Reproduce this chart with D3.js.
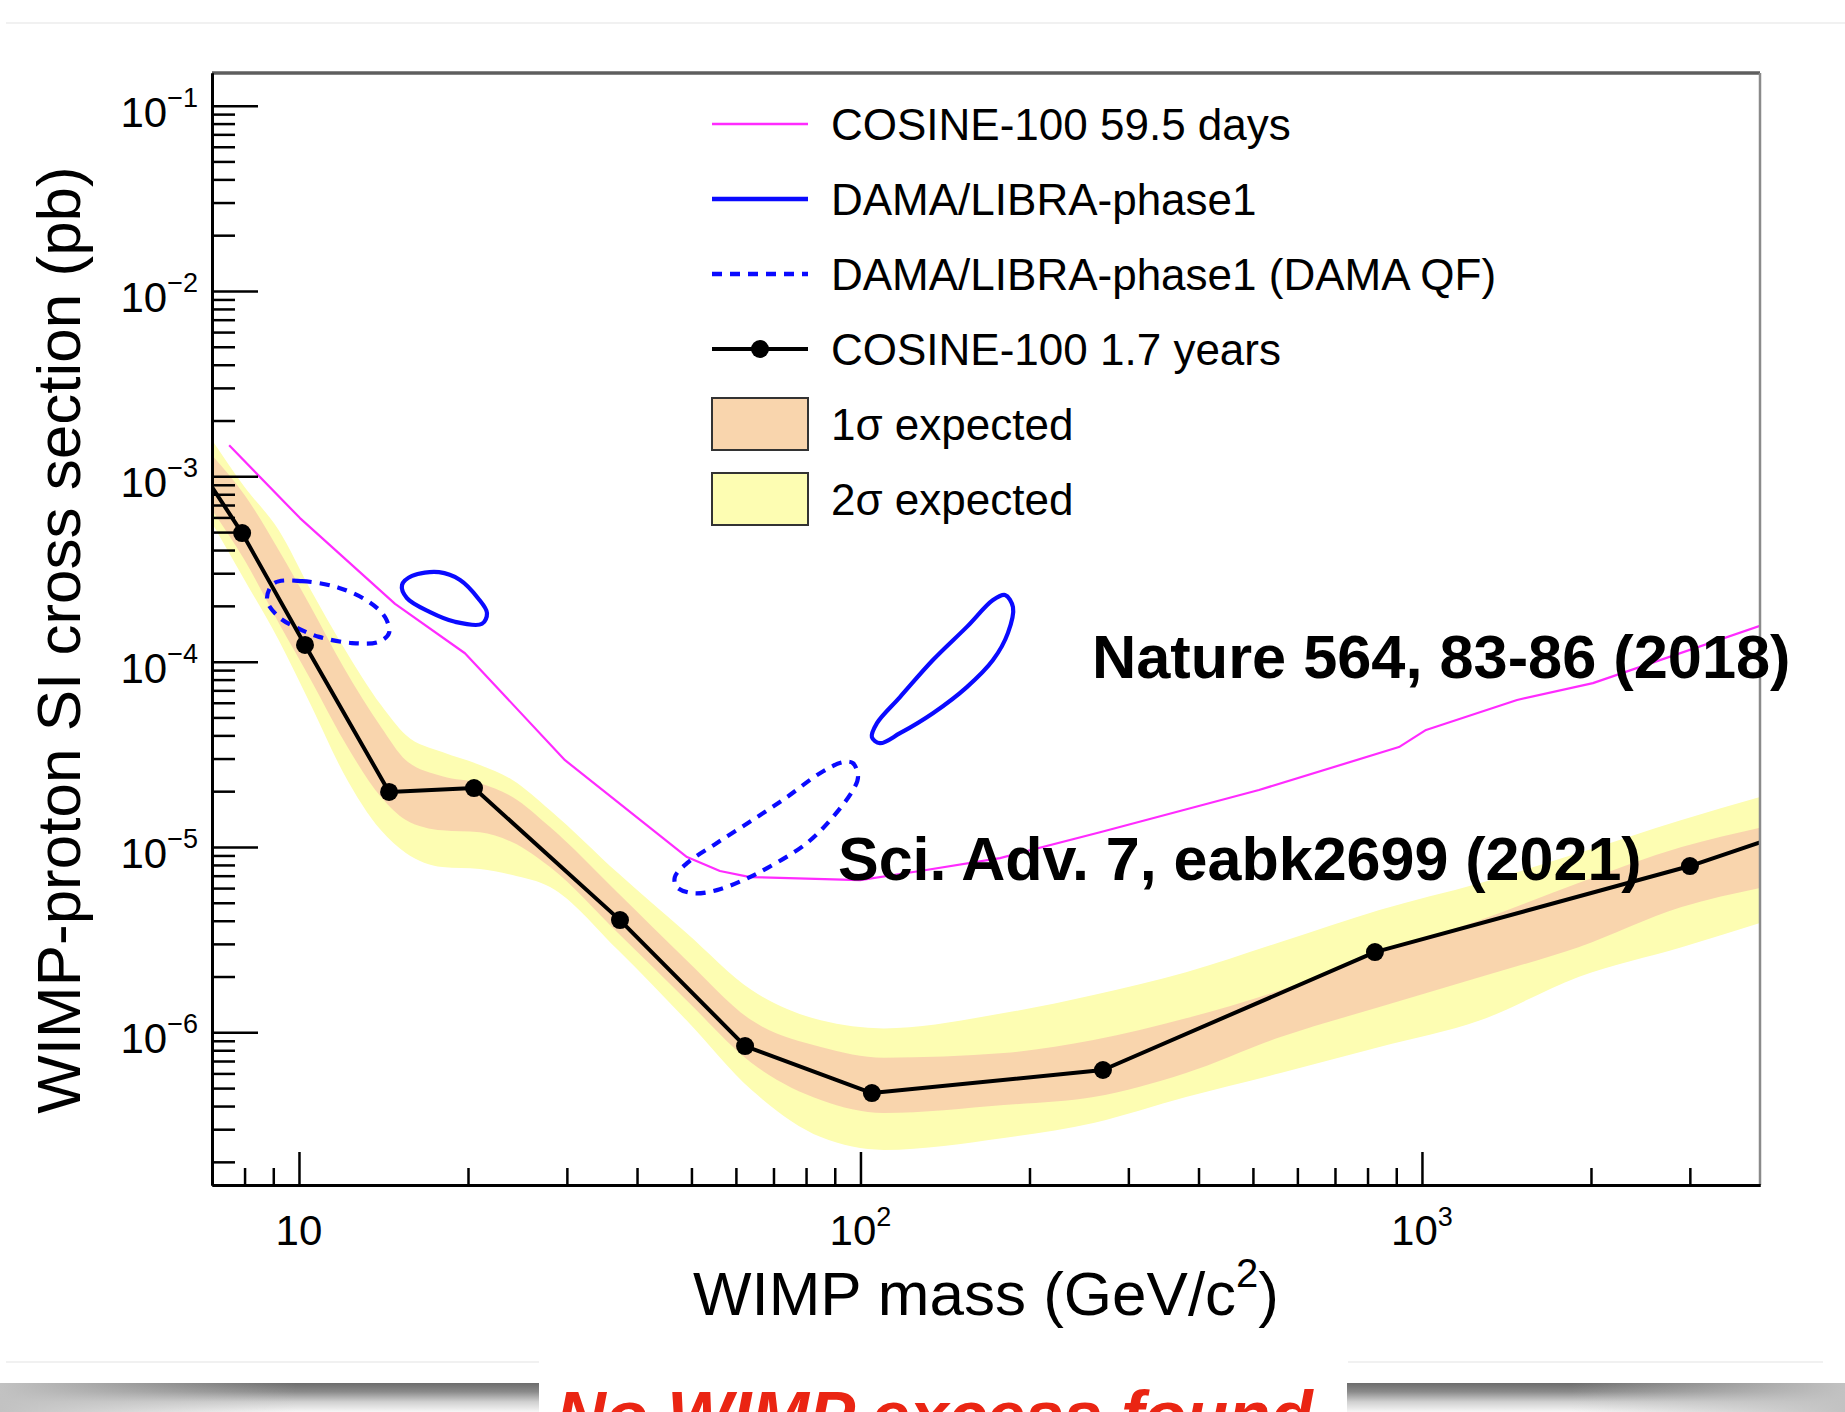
<!DOCTYPE html>
<html>
<head>
<meta charset="utf-8">
<script src="https://cdn.jsdelivr.net/npm/d3@7"></script>
<style>
  html, body { margin: 0; padding: 0; background: #fff; }
  svg { display: block; }
  text { font-family: "Liberation Sans", Arial, Helvetica, sans-serif; fill: #000; }
</style>
</head>
<body>
<svg id="chart" width="1845" height="1412"></svg>
<script>
// ---------------------------------------------------------------
// Data: WIMP-proton spin-independent cross section limits (pb)
// ---------------------------------------------------------------

// COSINE-100 1.7 years limit (end values continue the line to the frame)
const limitMass = [7, 7.92, 10.25, 14.47, 20.5, 37.3, 62.3, 104.8, 270.3, 824.7, 3001, 4000];
const limitXsec = [8.75e-4, 4.94e-4, 1.23e-4, 1.98e-5, 2.08e-5, 4.03e-6, 8.43e-7, 4.70e-7, 6.26e-7, 2.71e-6, 7.89e-6, 1.06e-5];

// Expected sensitivity bands
const bandMass   = [7, 8, 9.2, 10.5, 12, 14, 15.5, 18, 21, 24, 28, 37, 49, 64, 85, 110, 180, 260, 380, 560, 840, 1270, 1900, 2900, 4000];
const sigma2High = [1.57e-3, 8.75e-4, 5.13e-4, 2.43e-4, 1.20e-4, 5.83e-5, 4.02e-5, 3.25e-5, 2.77e-5, 2.30e-5, 1.58e-5, 7.23e-6, 3.43e-6, 1.69e-6, 1.16e-6, 1.05e-6, 1.27e-6, 1.59e-6, 2.11e-6, 3.07e-6, 4.57e-6, 6.39e-6, 9.27e-6, 1.40e-5, 1.86e-5];
const sigma1High = [1.30e-3, 7.93e-4, 4.00e-4, 1.97e-4, 9.35e-5, 4.44e-5, 2.94e-5, 2.41e-5, 2.21e-5, 1.86e-5, 1.28e-5, 5.64e-6, 2.45e-6, 1.16e-6, 8.33e-7, 7.30e-7, 7.73e-7, 9.08e-7, 1.19e-6, 1.69e-6, 2.68e-6, 4.03e-6, 6.39e-6, 9.99e-6, 1.27e-5];
const sigma1Low  = [6.58e-4, 3.53e-4, 1.62e-4, 7.96e-5, 3.78e-5, 1.86e-5, 1.40e-5, 1.23e-5, 1.20e-5, 1.06e-5, 7.79e-6, 3.43e-6, 1.49e-6, 6.83e-7, 4.31e-7, 3.67e-7, 4.05e-7, 4.47e-7, 6.03e-7, 9.43e-7, 1.37e-6, 1.99e-6, 2.88e-6, 4.74e-6, 6.00e-6];
const sigma2Low  = [5.60e-4, 2.76e-4, 1.31e-4, 5.83e-5, 2.51e-5, 1.23e-5, 9.27e-6, 7.79e-6, 7.60e-6, 7.06e-6, 6.08e-6, 2.78e-6, 1.16e-6, 4.88e-7, 2.72e-7, 2.32e-7, 2.69e-7, 3.24e-7, 4.47e-7, 6.03e-7, 8.33e-7, 1.16e-6, 1.99e-6, 2.88e-6, 3.89e-6];

// COSINE-100 59.5 days limit
const cosine2018Mass = [7.51, 10.04, 14.83, 19.75, 29.77, 49.09, 56.2, 63.6, 99.8, 127.6, 177.2, 267.1, 512.5, 910, 1017, 1477, 2016, 4000];
const cosine2018Xsec = [1.47e-3, 5.95e-4, 2.05e-4, 1.11e-4, 2.94e-5, 8.82e-6, 7.42e-6, 6.88e-6, 6.63e-6, 7.42e-6, 8.71e-6, 1.20e-5, 2.03e-5, 3.46e-5, 4.28e-5, 6.21e-5, 7.66e-5, 1.56e-4];

// DAMA/LIBRA-phase1 allowed regions (closed contours)
const damaNaMass = [15.26, 15.90, 17.76, 19.36, 20.84, 21.62, 21.18, 18.96, 17.12, 15.57];
const damaNaXsec = [2.59e-4, 2.90e-4, 3.04e-4, 2.76e-4, 2.20e-4, 1.83e-4, 1.60e-4, 1.64e-4, 1.85e-4, 2.20e-4];
const damaIMass  = [180.9, 186.9, 183.1, 172.2, 154.7, 134.6, 117.6, 108.3, 104.8, 107.0, 117.6, 134.6, 154.7, 172.2];
const damaIXsec  = [2.29e-4, 1.97e-4, 1.43e-4, 1.02e-4, 7.29e-5, 5.27e-5, 4.11e-5, 3.63e-5, 3.91e-5, 4.66e-5, 6.44e-5, 1.02e-4, 1.54e-4, 2.15e-4];

// DAMA/LIBRA-phase1 allowed regions with DAMA quenching factors
const damaNaQFMass = [9.03, 10.12, 11.79, 13.33, 14.23, 14.47, 13.88, 12.43, 10.86, 9.84, 9.21, 8.77];
const damaNaQFXsec = [2.65e-4, 2.72e-4, 2.50e-4, 2.10e-4, 1.74e-4, 1.43e-4, 1.28e-4, 1.26e-4, 1.36e-4, 1.54e-4, 1.74e-4, 2.15e-4];
const damaIQFMass  = [97.0, 99.0, 97.0, 89.3, 80.3, 68.2, 61.8, 55.5, 50.3, 47.1, 46.7, 49.1, 55.5, 64.3, 74.0, 84.7, 93.1];
const damaIQFXsec  = [2.83e-5, 2.38e-5, 2.03e-5, 1.45e-5, 1.05e-5, 7.69e-6, 6.62e-6, 5.85e-6, 5.63e-6, 6.07e-6, 6.87e-6, 8.18e-6, 1.05e-5, 1.40e-5, 1.86e-5, 2.50e-5, 2.87e-5];

// Axis tick labels (base 10 with exponent)
const xLabelValues = [10, 100, 1000];
const xLabelExps   = ["", "2", "3"];
const yLabelValues = [1e-6, 1e-5, 1e-4, 1e-3, 1e-2, 1e-1];
const yLabelExps   = ["\u22126", "\u22125", "\u22124", "\u22123", "\u22122", "\u22121"];

// Legend entries
const legendLabels = ["COSINE-100 59.5 days", "DAMA/LIBRA-phase1", "DAMA/LIBRA-phase1 (DAMA QF)",
                      "COSINE-100 1.7 years", "1\u03c3 expected", "2\u03c3 expected"];
const legendKinds  = ["magenta", "solid", "dashed", "limit", "band1", "band2"];

// References printed on the figure
const refLabels = ["Nature 564, 83-86 (2018)", "Sci. Adv. 7, eabk2699 (2021)"];
const footerText = "No WIMP excess found";

// ---------------------------------------------------------------
// Drawing
// ---------------------------------------------------------------
const W = 1845, H = 1412;
const frame = { left: 212, right: 1760, top: 73, bottom: 1185 };
const C = {
  magenta: "#ff2bff", blue: "#0a0aff", band1: "#f9d5ad", band2: "#fdfdb2",
  red: "#ea2513"
};

const x = d3.scaleLog().domain([7, 4000]).range([frame.left, frame.right]);
const y = d3.scaleLog().domain([1.5e-7, 0.15]).range([frame.bottom, frame.top]);

const svg = d3.select("#chart");
const defs = svg.append("defs");

svg.append("rect").attr("width", W).attr("height", H).attr("fill", "#fff");

// faint slide edges
svg.append("line").attr("x1", 6).attr("x2", W).attr("y1", 23).attr("y2", 23)
  .attr("stroke", "#ececec").attr("stroke-width", 1.5);
svg.append("line").attr("x1", 6).attr("x2", 539).attr("y1", 1362).attr("y2", 1362)
  .attr("stroke", "#ececec").attr("stroke-width", 1.5);
svg.append("line").attr("x1", 1348).attr("x2", 1823).attr("y1", 1362).attr("y2", 1362)
  .attr("stroke", "#ececec").attr("stroke-width", 1.5);

defs.append("clipPath").attr("id", "plotClip").append("rect")
  .attr("x", frame.left).attr("y", frame.top)
  .attr("width", frame.right - frame.left).attr("height", frame.bottom - frame.top);

const plot = svg.append("g").attr("clip-path", "url(#plotClip)");

// expected bands
const band = bandMass.map((m, i) => ({ m, l2: sigma2Low[i], l1: sigma1Low[i], h1: sigma1High[i], h2: sigma2High[i] }));
plot.append("path").datum(band)
  .attr("d", d3.area().x(d => x(d.m)).y0(d => y(d.l2)).y1(d => y(d.h2)).curve(d3.curveMonotoneX))
  .attr("fill", C.band2);
plot.append("path").datum(band)
  .attr("d", d3.area().x(d => x(d.m)).y0(d => y(d.l1)).y1(d => y(d.h1)).curve(d3.curveMonotoneX))
  .attr("fill", C.band1);

// COSINE-100 59.5 days
const polyline = d3.line().x(d => x(d[0])).y(d => y(d[1]));
plot.append("path").datum(d3.zip(cosine2018Mass, cosine2018Xsec))
  .attr("d", polyline).attr("fill", "none")
  .attr("stroke", C.magenta).attr("stroke-width", 2.2).attr("stroke-linejoin", "round");

// DAMA contours
const closed = d3.line().x(d => x(d[0])).y(d => y(d[1])).curve(d3.curveCatmullRomClosed.alpha(0.5));
[[damaNaMass, damaNaXsec], [damaIMass, damaIXsec]].forEach(([m, s]) => {
  plot.append("path").datum(d3.zip(m, s)).attr("d", closed)
    .attr("fill", "none").attr("stroke", C.blue).attr("stroke-width", 4.2);
});
[[damaNaQFMass, damaNaQFXsec], [damaIQFMass, damaIQFXsec]].forEach(([m, s]) => {
  plot.append("path").datum(d3.zip(m, s)).attr("d", closed)
    .attr("fill", "none").attr("stroke", C.blue).attr("stroke-width", 4.2)
    .attr("stroke-dasharray", "10,8");
});

// COSINE-100 1.7 years limit with markers
const limit = d3.zip(limitMass, limitXsec);
plot.append("path").datum(limit).attr("d", polyline).attr("fill", "none")
  .attr("stroke", "#000").attr("stroke-width", 4).attr("stroke-linejoin", "round");
const [xd0, xd1] = x.domain();
plot.selectAll("circle.pt").data(limit.filter(d => d[0] > xd0 && d[0] < xd1)).join("circle")
  .attr("class", "pt").attr("cx", d => x(d[0])).attr("cy", d => y(d[1])).attr("r", 9).attr("fill", "#000");

// frame: top and right edges
svg.append("line").attr("x1", frame.left).attr("x2", frame.right).attr("y1", frame.top).attr("y2", frame.top)
  .attr("stroke", "#5e5e5e").attr("stroke-width", 3.5);
svg.append("line").attr("x1", frame.right).attr("x2", frame.right).attr("y1", frame.top).attr("y2", frame.bottom)
  .attr("stroke", "#8a8a8a").attr("stroke-width", 2.5);

// axes (ticks drawn inward)
const isDecade = v => Math.abs(Math.log10(v) - Math.round(Math.log10(v))) < 1e-9;
const xTicks = x.ticks().filter(v => v > xd0 && v < xd1);
const [yd0, yd1] = y.domain();
const yTicks = y.ticks().filter(v => v > yd0 && v < yd1);

function styleAxis(sel, w) {
  sel.select(".domain").attr("stroke", "#000").attr("stroke-width", 3);
  sel.selectAll(".tick line").attr("stroke", "#000").attr("stroke-width", w);
  sel.selectAll(".tick text").remove();
}
const gxMinor = svg.append("g").attr("transform", `translate(0,${frame.bottom})`)
  .call(d3.axisBottom(x).tickValues(xTicks.filter(v => !isDecade(v))).tickSize(-17).tickSizeOuter(0).tickFormat(""));
styleAxis(gxMinor, 2.5);
const gxMajor = svg.append("g").attr("transform", `translate(0,${frame.bottom})`)
  .call(d3.axisBottom(x).tickValues(xTicks.filter(isDecade)).tickSize(-33).tickSizeOuter(0).tickFormat(""));
styleAxis(gxMajor, 2.5);
const gyMinor = svg.append("g").attr("transform", `translate(${frame.left},0)`)
  .call(d3.axisLeft(y).tickValues(yTicks.filter(v => !isDecade(v))).tickSize(-23).tickSizeOuter(0).tickFormat(""));
styleAxis(gyMinor, 2.5);
const gyMajor = svg.append("g").attr("transform", `translate(${frame.left},0)`)
  .call(d3.axisLeft(y).tickValues(yTicks.filter(isDecade)).tickSize(-46).tickSizeOuter(0).tickFormat(""));
styleAxis(gyMajor, 2.5);

// tick labels
xLabelValues.forEach((v, i) => {
  const t = svg.append("text").attr("x", x(v)).attr("y", 1245)
    .attr("text-anchor", "middle").attr("font-size", 42);
  t.append("tspan").text("10");
  if (xLabelExps[i]) t.append("tspan").attr("font-size", 27).attr("dy", -19).text(xLabelExps[i]);
});
yLabelValues.forEach((v, i) => {
  const t = svg.append("text").attr("x", 198).attr("y", y(v) + 21)
    .attr("text-anchor", "end").attr("font-size", 42);
  t.append("tspan").text("10");
  t.append("tspan").attr("font-size", 27).attr("dy", -20).text(yLabelExps[i]);
});

// axis titles
const xt = svg.append("text").attr("x", 986).attr("y", 1315)
  .attr("text-anchor", "middle").attr("font-size", 62);
xt.append("tspan").text("WIMP mass (GeV/c");
xt.append("tspan").attr("font-size", 40).attr("dy", -28).text("2");
xt.append("tspan").attr("dy", 28).text(")");

svg.append("text").attr("transform", "translate(80,640) rotate(-90)")
  .attr("text-anchor", "middle").attr("font-size", 62)
  .text("WIMP-proton SI cross section (pb)");

// legend
const legend = svg.append("g");
const legTop = 124, legStep = 75, legX0 = 712, legX1 = 808, legTextX = 831;
legendLabels.forEach((label, i) => {
  const cy = legTop + i * legStep;
  const kind = legendKinds[i];
  if (kind === "magenta") {
    legend.append("line").attr("x1", legX0).attr("x2", legX1).attr("y1", cy).attr("y2", cy)
      .attr("stroke", C.magenta).attr("stroke-width", 2.5);
  } else if (kind === "solid" || kind === "dashed") {
    const ln = legend.append("line").attr("x1", legX0).attr("x2", legX1).attr("y1", cy).attr("y2", cy)
      .attr("stroke", C.blue).attr("stroke-width", 4.5);
    if (kind === "dashed") ln.attr("stroke-dasharray", "10,8");
  } else if (kind === "limit") {
    legend.append("line").attr("x1", legX0).attr("x2", legX1).attr("y1", cy).attr("y2", cy)
      .attr("stroke", "#000").attr("stroke-width", 4);
    legend.append("circle").attr("cx", (legX0 + legX1) / 2).attr("cy", cy).attr("r", 9).attr("fill", "#000");
  } else {
    legend.append("rect").attr("x", legX0).attr("y", cy - 26).attr("width", legX1 - legX0).attr("height", 52)
      .attr("fill", kind === "band1" ? C.band1 : C.band2).attr("stroke", "#333").attr("stroke-width", 2);
  }
  legend.append("text").attr("x", legTextX).attr("y", cy + 16).attr("font-size", 44).text(label);
});

// reference annotations
svg.append("text").attr("x", 1092).attr("y", 678).attr("font-size", 61.3).attr("font-weight", "bold").text(refLabels[0]);
svg.append("text").attr("x", 838).attr("y", 880).attr("font-size", 61).attr("font-weight", "bold").text(refLabels[1]);

// slide footer: shaded bars and headline
const gv = defs.append("linearGradient").attr("id", "barV").attr("x1", 0).attr("y1", 0).attr("x2", 0).attr("y2", 1);
[[0, "#6c6c6c"], [0.3, "#8a8a8a"], [0.65, "#d0d0d0"], [1, "#f6f6f6"]].forEach(([o, c]) =>
  gv.append("stop").attr("offset", o).attr("stop-color", c));
function fade(id, x1, x2) {
  const g = defs.append("linearGradient").attr("id", id).attr("x1", x1).attr("y1", 0).attr("x2", x2).attr("y2", 0);
  g.append("stop").attr("offset", 0).attr("stop-color", "#c2c2c2").attr("stop-opacity", 1);
  g.append("stop").attr("offset", 0.55).attr("stop-color", "#c2c2c2").attr("stop-opacity", 0);
}
fade("fadeL", 0, 1);
fade("fadeR", 1, 0);
svg.append("rect").attr("x", 0).attr("y", 1383).attr("width", 539).attr("height", 29).attr("fill", "url(#barV)");
svg.append("rect").attr("x", 0).attr("y", 1383).attr("width", 539).attr("height", 29).attr("fill", "url(#fadeL)");
svg.append("rect").attr("x", 1347).attr("y", 1383).attr("width", 498).attr("height", 29).attr("fill", "url(#barV)");
svg.append("rect").attr("x", 1347).attr("y", 1383).attr("width", 498).attr("height", 29).attr("fill", "url(#fadeR)");

svg.append("text").attr("x", 556).attr("y", 1439).attr("font-size", 69)
  .attr("font-weight", "bold").attr("font-style", "italic")
  .style("fill", C.red).text(footerText);
</script>
</body>
</html>
